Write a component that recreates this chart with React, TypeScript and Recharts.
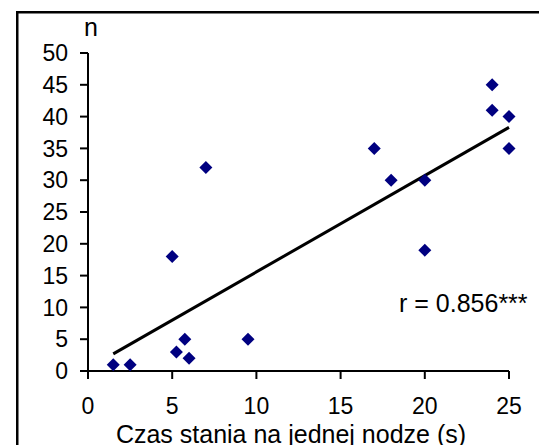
import { ReferenceLine, Scatter, ScatterChart, XAxis, YAxis } from "recharts";

const standTime = [1.5, 2.5, 5, 5.25, 5.75, 6, 7, 9.5, 17, 18, 20, 20, 24, 24, 25, 25];
const counts = [1, 1, 18, 3, 5, 2, 32, 5, 35, 30, 30, 19, 45, 41, 40, 35];
const trendX = [1.5, 25];
const trendY = [2.7, 38.3];
const xTicks = [0, 5, 10, 15, 20, 25];
const yTicks = [0, 5, 10, 15, 20, 25, 30, 35, 40, 45, 50];

const points = standTime.map((x, i) => ({ x, y: counts[i] }));
const font = "'Liberation Sans', Arial, sans-serif";
const axisStroke = { stroke: "#000", strokeWidth: 2 };

// excel-style square diamond marker
function Diamond(props: any) {
  const { cx, cy } = props;
  const r = 6.5;
  return (
    <polygon
      points={`${cx},${cy - r} ${cx + r},${cy} ${cx},${cy + r} ${cx - r},${cy}`}
      fill="#000080"
    />
  );
}

export default function App() {
  return (
    <div
      style={{
        position: "fixed",
        left: 0,
        top: 0,
        width: 539,
        height: 445,
        overflow: "hidden",
        background: "#fff",
        fontFamily: font,
      }}
    >
      <div style={{ position: "absolute", left: 0, top: 0 }}>
        <ScatterChart width={539} height={445} margin={{ top: 53, right: 30, bottom: 0, left: 0 }}>
          <XAxis
            type="number"
            dataKey="x"
            domain={[0, 25]}
            ticks={xTicks}
            height={74}
            tickSize={8}
            tickMargin={19}
            axisLine={axisStroke}
            tickLine={axisStroke}
            tick={{ fill: "#000", fontSize: 23, fontFamily: font }}
          />
          <YAxis
            type="number"
            dataKey="y"
            domain={[0, 50]}
            ticks={yTicks}
            width={88}
            tickSize={8}
            tickMargin={12}
            axisLine={axisStroke}
            tickLine={axisStroke}
            tick={{ fill: "#000", fontSize: 23, fontFamily: font }}
          />
          <ReferenceLine
            segment={[
              { x: trendX[0], y: trendY[0] },
              { x: trendX[1], y: trendY[1] },
            ]}
            stroke="#000"
            strokeWidth={3}
          />
          <Scatter data={points} shape={Diamond} isAnimationActive={false} />
        </ScatterChart>
      </div>
      <svg
        width={539}
        height={445}
        style={{ position: "absolute", left: 0, top: 0, pointerEvents: "none" }}
      >
        {/* chart-area frame, only top and left edges fall inside the picture */}
        <path d="M17.25,445 L17.25,12.25 L539,12.25" fill="none" stroke="#000" strokeWidth={2.5} />
        <text x={91} y={35.5} textAnchor="middle" fontSize={25} fontFamily={font} fill="#000">
          n
        </text>
        <text x={399} y={311.5} fontSize={25} fontFamily={font} fill="#000">
          r = 0.856***
        </text>
        <text x={291} y={443} textAnchor="middle" fontSize={25} fontFamily={font} fill="#000">
          Czas stania na jednej nodze (s)
        </text>
      </svg>
    </div>
  );
}
